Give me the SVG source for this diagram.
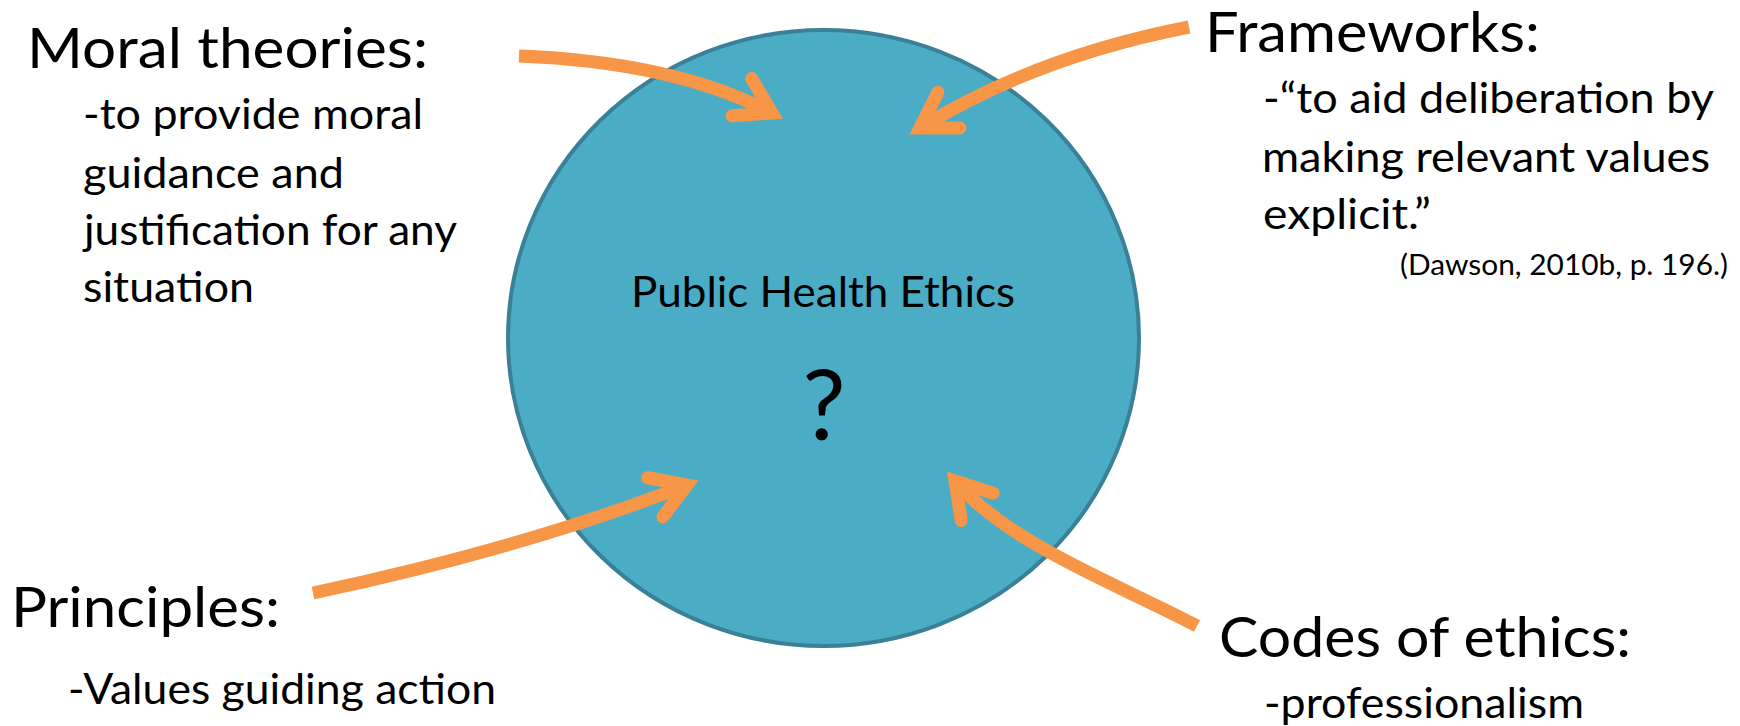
<svg xmlns="http://www.w3.org/2000/svg" width="1740" height="726" viewBox="0 0 1740 726">
<style>
text { font-family: Lato, Carlito, "Liberation Sans", sans-serif; fill: #000; }
.h { font-size: 56.5px; }
.b { font-size: 42.3px; }
.c { font-size: 28.2px; }
.conn { fill: none; stroke: #F79646; stroke-width: 13; stroke-linecap: butt; marker-end: url(#ah); }
</style>
<defs>
<marker id="ah" markerUnits="userSpaceOnUse" orient="auto" overflow="visible" markerWidth="1" markerHeight="1" refX="0" refY="0">
<path d="M-34,-21 L0,0 L-34,21" fill="none" stroke="#F79646" stroke-width="13" stroke-linecap="round" stroke-linejoin="miter"/>
</marker>
</defs>
<rect width="1740" height="726" fill="#fff"/>
<g id="node-center">
<ellipse cx="823.5" cy="338" rx="315.5" ry="308" fill="#4BACC6" stroke="#3A8096" stroke-width="4"/>
<text x="631" y="307" class="b" textLength="384" lengthAdjust="spacingAndGlyphs">Public Health Ethics</text>
<text x="824" y="440" font-size="97" text-anchor="middle">?</text>
</g>
<g id="node-moral">
<text x="27" y="68" class="h" textLength="401" lengthAdjust="spacingAndGlyphs">Moral theories:</text>
<text x="83" y="129" class="b" textLength="340" lengthAdjust="spacingAndGlyphs">-to provide moral</text>
<text x="83" y="188" class="b" textLength="261" lengthAdjust="spacingAndGlyphs">guidance and</text>
<text x="84" y="245" class="b" textLength="373" lengthAdjust="spacingAndGlyphs">justification for any</text>
<text x="83" y="302" class="b" textLength="171" lengthAdjust="spacingAndGlyphs">situation</text>
</g>
<g id="node-frameworks">
<text x="1205" y="52" class="h" textLength="335" lengthAdjust="spacingAndGlyphs">Frameworks:</text>
<text x="1263" y="113" class="b" textLength="451" lengthAdjust="spacingAndGlyphs">-&#8220;to aid deliberation by</text>
<text x="1262" y="172" class="b" textLength="448" lengthAdjust="spacingAndGlyphs">making relevant values</text>
<text x="1263" y="229" class="b" textLength="168" lengthAdjust="spacingAndGlyphs">explicit.&#8221;</text>
<text x="1400" y="275" class="c" textLength="328" lengthAdjust="spacingAndGlyphs">(Dawson, 2010b, p. 196.)</text>
</g>
<g id="node-principles">
<text x="11" y="627" class="h" textLength="269" lengthAdjust="spacingAndGlyphs">Principles:</text>
<text x="68" y="704" class="b" textLength="428" lengthAdjust="spacingAndGlyphs">-Values guiding action</text>
</g>
<g id="node-codes">
<text x="1219" y="657" class="h" textLength="412" lengthAdjust="spacingAndGlyphs">Codes of ethics:</text>
<text x="1264" y="718" class="b" textLength="320" lengthAdjust="spacingAndGlyphs">-professionalism</text>
</g>
<g id="connectors">
<path class="conn" d="M519,56 Q675,62 772,113"/>
<path class="conn" d="M1189,27 Q1035,57 920,128"/>
<path class="conn" d="M313,593 Q525,548 687,485"/>
<path class="conn" d="M1197,626 C1120,585 1010,545 955,481"/>
</g>
</svg>
